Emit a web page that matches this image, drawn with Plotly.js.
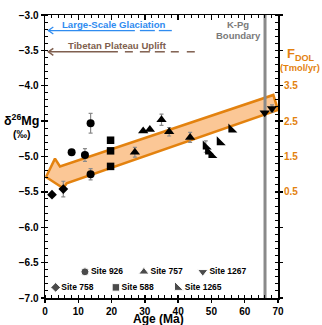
<!DOCTYPE html>
<html>
<head>
<meta charset="utf-8">
<script src="https://cdn.plot.ly/plotly-3.0.1.min.js"></script>
<style>html,body{margin:0;padding:0;background:#fff}#chart{width:322px;height:325px}</style>
</head>
<body>
<div id="chart"></div>
<script>
// ---- data (age in Ma, delta26Mg in permil) ----
var site758Age = [2.1, 5.5];
var site758D = [-5.54, -5.46];
var site758Err = [0, 0.11];

var site926Age = [8.0, 12.0, 13.7, 13.7];
var site926D = [-4.94, -4.98, -4.53, -5.25];
var site926Err = [0.03, 0.09, 0.14, 0.08];

var site588Age = [19.7, 19.7, 19.7];
var site588D = [-4.77, -4.92, -5.14];
var site588Err = [0, 0, 0];

var site757Age = [27.0, 29.5, 31.5, 35.0, 37.3, 43.6];
var site757D = [-4.94, -4.64, -4.62, -4.48, -4.65, -4.73];
var site757Err = [0.07, 0, 0, 0.08, 0.06, 0.07];

var site1265Age = [48.3, 49.0, 50.0, 52.5, 56.0];
var site1265D = [-4.86, -4.93, -4.98, -4.80, -4.62];
var site1265Err = [0.08, 0, 0, 0, 0];

var site1267Age = [66.0, 68.2];
var site1267D = [-4.38, -4.32];
var site1267Err = [0, 0.05];

// trend arrow (F_DOL band) outline
var bandAge = [0.3, 3.0, 4.5, 68.6, 70.0, 6.5, 5.5, 0.3];
var bandD = [-5.29, -5.03, -5.14, -4.13, -4.34, -5.38, -5.45, -5.29];

var kpgAge = 66.1;

var siteNames = ['Site 926', 'Site 757', 'Site 1267', 'Site 758', 'Site 588', 'Site 1265'];

// left axis labelled ticks (the -4.5 slot holds the axis title)
var dTickVals = [-7.0, -6.5, -6.0, -5.5, -5.0, -4.0, -3.5, -3.0];
// right axis (F_DOL, Tmol/yr) labelled ticks
var fTickVals = [0.5, 1.5, 2.5, 3.5];
var fTickText = ['0.5', '1.5', '2.5', '3.5'];

// ---- styling / layout ----
var FONT = 'Liberation Sans, Arial, sans-serif';
var ORANGE = '#E3820F';
var BLUE = '#2F8CF0';
var BROWN = '#7F5F4F';
var GRAY = '#8a8a8a';

function site(x, y, err, sym, size) {
  return {
    type: 'scatter', mode: 'markers', x: x, y: y, xaxis: 'x', yaxis: 'y',
    marker: {symbol: sym, size: size, color: '#000'},
    error_y: {type: 'data', array: err, visible: true, color: GRAY, thickness: 1.2, width: 2},
    showlegend: false, hoverinfo: 'x+y', cliponaxis: false
  };
}

var SIZES = {'circle': 8, 'triangle-up': 9, 'triangle-down': 9, 'diamond': 7.5, 'square': 7.5, 'triangle-sw': 10};

var legendPos = {
  x: [12.0, 29.7, 47.4, 3.2, 21.3, 39.8],
  y: [-6.63, -6.63, -6.63, -6.85, -6.85, -6.85],
  sym: ['circle', 'triangle-up', 'triangle-down', 'diamond', 'square', 'triangle-sw']
};

function helper(xa, ya) {
  return {type: 'scatter', mode: 'markers', x: [null], y: [null], xaxis: xa, yaxis: ya, showlegend: false, hoverinfo: 'skip'};
}

var traces = [
  {type: 'scatter', mode: 'lines', x: bandAge, y: bandD, fill: 'toself', fillcolor: '#FBC796',
   line: {color: ORANGE, width: 2.5}, showlegend: false, hoverinfo: 'skip'},
  {type: 'scatter', mode: 'lines', x: [kpgAge, kpgAge], y: [-7, -3], line: {color: GRAY, width: 3},
   showlegend: false, hoverinfo: 'skip'},
  site(site758Age, site758D, site758Err, 'diamond', SIZES['diamond']),
  site(site926Age, site926D, site926Err, 'circle', SIZES['circle']),
  site(site588Age, site588D, site588Err, 'square', SIZES['square']),
  site(site757Age, site757D, site757Err, 'triangle-up', SIZES['triangle-up']),
  site(site1265Age, site1265D, site1265Err, 'triangle-sw', SIZES['triangle-sw']),
  site(site1267Age, site1267D, site1267Err, 'triangle-down', SIZES['triangle-down']),
  {type: 'scatter', mode: 'markers+text', x: legendPos.x, y: legendPos.y, text: siteNames,
   textposition: 'middle right', textfont: {family: FONT, size: 8.5, weight: 'bold', color: '#000'},
   marker: {symbol: legendPos.sym, size: legendPos.sym.map(function (s) { return SIZES[s]; }), color: '#000'},
   showlegend: false, hoverinfo: 'skip'},
  helper('x', 'y2'), helper('x', 'y3'), helper('x', 'y4'), helper('x', 'y5'), helper('x', 'y6'),
  helper('x2', 'y'), helper('x3', 'y')
];

var tickFont = {family: FONT, size: 10, weight: 'bold', color: '#000'};
var axBase = {showgrid: false, zeroline: false, fixedrange: true, tickcolor: '#000', tickwidth: 1.3};
var minorY = {ticks: 'inside', ticklen: 3, dtick: 0.1, tick0: -7, tickcolor: '#000', tickwidth: 1};

function plainY(side, dir) {
  return Object.assign({}, axBase, {
    overlaying: 'y', anchor: 'x', side: side, range: [-7, -3], tickmode: 'linear', tick0: -7, dtick: 0.5,
    ticks: dir, ticklen: 3, showticklabels: false, showline: false
  });
}

var arrowPath = 'M 5,3.5 L 0,0 L 5,-3.5';

var layout = {
  width: 322, height: 325,
  margin: {l: 45, r: 44, t: 15, b: 27, pad: 0},
  paper_bgcolor: '#fff', plot_bgcolor: '#fff',
  font: {family: FONT, color: '#000'},
  showlegend: false,
  xaxis: Object.assign({}, axBase, {
    range: [0, 70], tickmode: 'linear', tick0: 0, dtick: 10, ticks: 'outside', ticklen: 3,
    showline: true, linecolor: '#000', linewidth: 1.5, tickfont: tickFont,
    minor: {ticks: 'inside', ticklen: 3, dtick: 2, tick0: 0, tickcolor: '#000', tickwidth: 1}
  }),
  xaxis2: Object.assign({}, axBase, {
    overlaying: 'x', anchor: 'y', side: 'bottom', range: [0, 70], tickmode: 'linear', tick0: 0, dtick: 10,
    ticks: 'inside', ticklen: 3, showticklabels: false, showline: false
  }),
  xaxis3: Object.assign({}, axBase, {
    overlaying: 'x', anchor: 'y', side: 'top', range: [0, 70], tickmode: 'linear', tick0: 0, dtick: 10,
    ticks: 'inside', ticklen: 5, showticklabels: false, showline: true, linecolor: '#000', linewidth: 1.5,
    minor: {ticks: 'inside', ticklen: 3, dtick: 2, tick0: 0, tickcolor: '#000', tickwidth: 1}
  }),
  yaxis: Object.assign({}, axBase, {
    range: [-7, -3], tickmode: 'array', tickvals: dTickVals, tickformat: '.1f',
    ticks: 'outside', ticklen: 3, showline: true, linecolor: '#000', linewidth: 1.5, tickfont: tickFont,
    minor: {ticks: 'inside', ticklen: 3, tickmode: 'linear', dtick: 0.1, tick0: -7, tickcolor: '#000', tickwidth: 1}
  }),
  yaxis3: plainY('left', 'inside'),
  yaxis6: plainY('left', 'outside'),
  yaxis2: Object.assign({}, axBase, {
    overlaying: 'y', anchor: 'x', side: 'right', range: [-2.5, 5.5], tickmode: 'array',
    tickvals: fTickVals, ticktext: fTickText, ticks: 'outside', ticklen: 3,
    showline: false,
    tickfont: {family: FONT, size: 10, weight: 'bold', color: ORANGE}
  }),
  yaxis4: Object.assign(plainY('right', 'outside'), {showline: true, linecolor: '#000', linewidth: 1.5, minor: minorY}),
  yaxis5: plainY('right', 'inside'),
  shapes: [
    // glaciation arrow (solid + dashed)
    {type: 'line', xref: 'x', yref: 'y', x0: 1.0, x1: 27.0, y0: -3.22, y1: -3.22, line: {color: BLUE, width: 1.3}},
    {type: 'path', xref: 'x', yref: 'y', xsizemode: 'pixel', ysizemode: 'pixel', xanchor: 1.0, yanchor: -3.22,
     path: arrowPath, line: {color: BLUE, width: 1.3}},
    {type: 'line', xref: 'x', yref: 'y', x0: 28.5, x1: 33.0, y0: -3.22, y1: -3.22, line: {color: BLUE, width: 1.3}},
    {type: 'line', xref: 'x', yref: 'y', x0: 34.2, x1: 38.1, y0: -3.22, y1: -3.22, line: {color: BLUE, width: 1.3}},
    // Tibetan uplift arrow (solid + dashed)
    {type: 'line', xref: 'x', yref: 'y', x0: 1.0, x1: 21.9, y0: -3.52, y1: -3.52, line: {color: BROWN, width: 1.5}},
    {type: 'path', xref: 'x', yref: 'y', xsizemode: 'pixel', ysizemode: 'pixel', xanchor: 1.0, yanchor: -3.52,
     path: arrowPath, line: {color: BROWN, width: 1.5}},
    {type: 'line', xref: 'x', yref: 'y', x0: 24.0, x1: 26.4, y0: -3.52, y1: -3.52, line: {color: BROWN, width: 1.5}},
    {type: 'line', xref: 'x', yref: 'y', x0: 28.5, x1: 31.5, y0: -3.52, y1: -3.52, line: {color: BROWN, width: 1.5}},
    {type: 'line', xref: 'x', yref: 'y', x0: 33.0, x1: 36.0, y0: -3.52, y1: -3.52, line: {color: BROWN, width: 1.5}},
    {type: 'line', xref: 'x', yref: 'y', x0: 37.8, x1: 40.2, y0: -3.52, y1: -3.52, line: {color: BROWN, width: 1.5}},
    {type: 'line', xref: 'x', yref: 'y', x0: 42.6, x1: 45.0, y0: -3.52, y1: -3.52, line: {color: BROWN, width: 1.5}}
  ],
  annotations: [
    {xref: 'x', yref: 'y', x: 20.7, y: -3.14, text: 'Large-Scale Glaciation', showarrow: false,
     xanchor: 'center', yanchor: 'middle', font: {family: FONT, size: 9.6, weight: 'bold', color: BLUE}},
    {xref: 'x', yref: 'y', x: 21.9, y: -3.43, text: 'Tibetan Plateau Uplift', showarrow: false,
     xanchor: 'center', yanchor: 'middle', font: {family: FONT, size: 9.6, weight: 'bold', color: BROWN}},
    {xref: 'x', yref: 'y', x: 58.0, y: -3.14, text: 'K-Pg', showarrow: false,
     xanchor: 'center', yanchor: 'middle', font: {family: FONT, size: 9.5, weight: 'bold', color: '#7a7a7a'}},
    {xref: 'x', yref: 'y', x: 58.0, y: -3.285, text: 'Boundary', showarrow: false,
     xanchor: 'center', yanchor: 'middle', font: {family: FONT, size: 9.5, weight: 'bold', color: '#7a7a7a'}},
    {xref: 'paper', yref: 'paper', x: 0.487, y: -0.073, text: 'Age (Ma)', showarrow: false,
     xanchor: 'center', yanchor: 'middle', font: {family: FONT, size: 12, weight: 'bold', color: '#000'}},
    {xref: 'paper', yref: 'paper', x: -0.1, y: 0.629, text: 'δ<sup>26</sup>Mg', showarrow: false,
     xanchor: 'center', yanchor: 'middle', font: {family: FONT, size: 12.5, weight: 'bold', color: '#000'}},
    {xref: 'paper', yref: 'paper', x: -0.1, y: 0.578, text: '(‰)', showarrow: false,
     xanchor: 'center', yanchor: 'middle', font: {family: FONT, size: 10.5, weight: 'bold', color: '#000'}},
    {xref: 'paper', yref: 'paper', x: 1.097, y: 0.862, text: 'F<sub>DOL</sub>', showarrow: false,
     xanchor: 'center', yanchor: 'middle', font: {family: FONT, size: 13, weight: 'bold', color: ORANGE}},
    {xref: 'paper', yref: 'paper', x: 1.094, y: 0.813, text: '(Tmol/yr)', showarrow: false,
     xanchor: 'center', yanchor: 'middle', font: {family: FONT, size: 9.3, weight: 'bold', color: ORANGE}}
  ]
};

Plotly.newPlot('chart', traces, layout, {displayModeBar: false, staticPlot: true});
</script>
</body>
</html>
